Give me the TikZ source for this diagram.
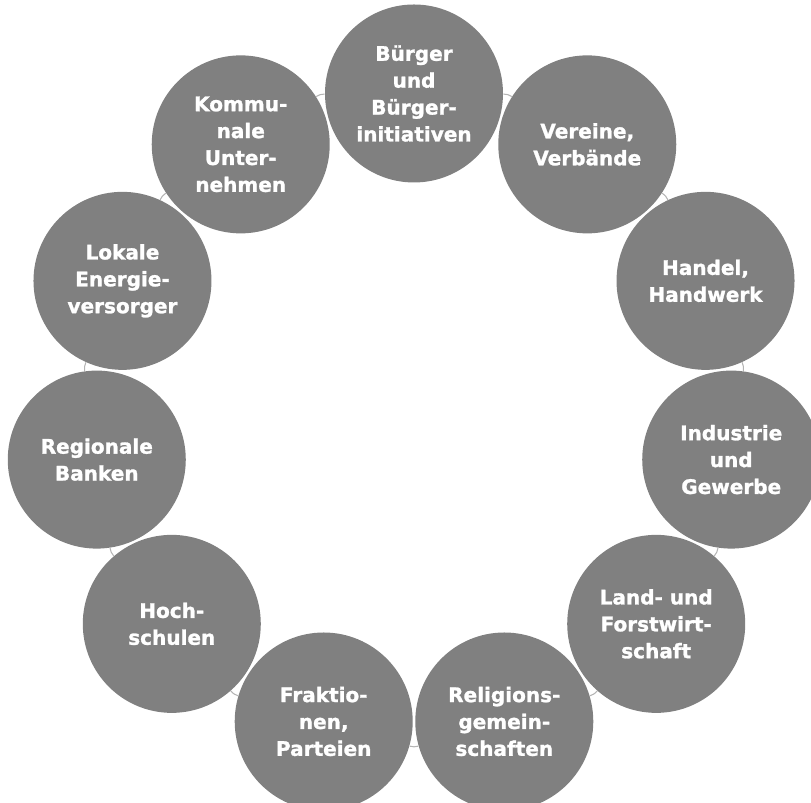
\documentclass[tikz,border=0pt]{standalone}
\usepackage{fontspec}
\newfontfamily\discfont{DejaVu Sans}[BoldFeatures={FakeBold=1.3}]
\usepackage{tikz}
\usetikzlibrary{positioning,calc}
\usepackage{xcolor}
\definecolor{discgray}{HTML}{808080}
\definecolor{ringgray}{HTML}{B4B4B4}

\begin{document}
\begin{tikzpicture}[
  member/.style={circle,fill=discgray,minimum size=3.56cm,inner sep=0pt,
    text=white,align=center,font=\discfont\bfseries\fontsize{11.4}{15.3}\selectfont},
  link/.style={ringgray,line width=0.6pt}]
\useasboundingbox (0,0) rectangle (16.22,16.06);
\coordinate (mid) at (8.28,7.78);
% the eleven actors round the ring
\foreach \i/\txt in {1/{B\"urger\\und\\B\"urger-\\initiativen},
    2/{Vereine,\\Verb\"ande}, 3/{Handel,\\Handwerk},
    4/{Industrie\\und\\Gewerbe}, 5/{Land- und\\Forstwirt-\\schaft},
    6/{Religions-\\gemein-\\schaften}, 7/{Fraktio-\\nen,\\Parteien},
    8/{Hoch-\\schulen}, 9/{Regionale\\Banken},
    10/{Lokale\\Energie-\\versorger}, 11/{Kommu-\\nale\\Unter-\\nehmen}} {
  \pgfmathsetmacro{\a}{90-(\i-1)*360/11}
  \node[member] (n\i) at ($(mid)+(\a:6.41)$) {\txt};
}
% thin ring pieces between neighbours
\foreach \i [evaluate=\i as \j using {int(mod(\i,11)+1)}] in {1,...,11} {
  \draw[link] (n\i) to[bend left=16] (n\j);
}
\end{tikzpicture}
\end{document}
